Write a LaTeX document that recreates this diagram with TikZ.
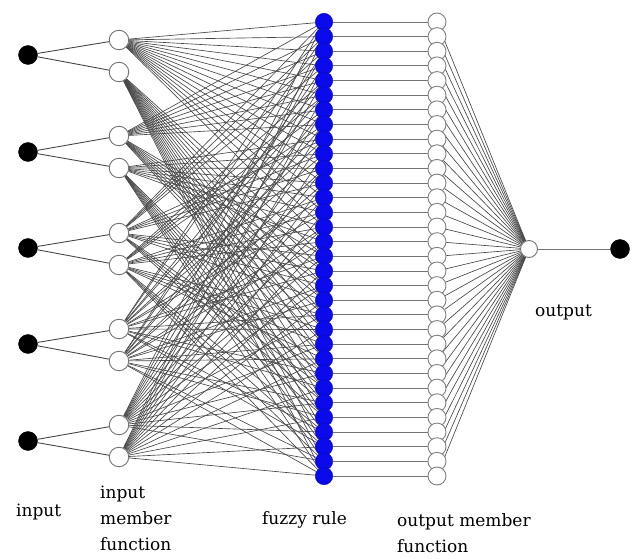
\documentclass[tikz,border=0pt]{standalone}
\usepackage{fontspec}
\setmainfont{DejaVu Serif}
\pgfdeclarelayer{wires}
\pgfsetlayers{wires,main}
\definecolor{rulefill}{RGB}{10,10,235}
\begin{document}
\begin{tikzpicture}[x=1pt,y=-1pt,
  innode/.style={circle,fill=black,draw=black,minimum size=19pt,inner sep=0pt},
  mfnode/.style={circle,fill=white,draw=black!55,line width=0.9pt,minimum size=19.5pt,inner sep=0pt},
  rulenode/.style={circle,fill=rulefill,draw=rulefill!80!black,line width=0.4pt,minimum size=17.5pt,inner sep=0pt},
  outmf/.style={circle,fill=white,draw=black!50,line width=0.9pt,minimum size=18pt,inner sep=0pt},
  wire/.style={draw=black!72,line width=0.65pt},
  lbl/.style={font=\fontsize{17}{26}\selectfont,align=left,inner sep=0pt,anchor=west}]
\useasboundingbox (0,0) rectangle (633,559);

% inputs and their two membership functions
\foreach \j/\y/\ya/\yb in {1/55/40/72,2/152/136/168,3/248/233/265,4/344/329/361,5/441/425/457}{
  \node[innode] (in\j) at (28,\y) {};
  \node[mfnode] (mf\j-0) at (119,\ya) {};
  \node[mfnode] (mf\j-1) at (119,\yb) {};
  \begin{pgfonlayer}{wires}
    \draw[wire,line width=0.9pt] (in\j) -- (mf\j-0);
    \draw[wire,line width=0.9pt] (in\j) -- (mf\j-1);
  \end{pgfonlayer}
}

% 32 rules and their output membership functions
\foreach \i in {0,...,31}{
  \pgfmathsetmacro\yy{22+\i*454/31}
  \node[rulenode] (r\i) at (324,\yy) {};
  \node[outmf] (o\i) at (437,\yy) {};
}

% output stage
\node[mfnode,minimum size=17pt] (out) at (529,249) {};
\node[innode] (res) at (620,249) {};

\begin{pgfonlayer}{wires}
  \foreach \i in {0,...,31}{
    \foreach \j in {1,...,5}{
      \pgfmathtruncatemacro\b{mod(floor(\i/2^(5-\j)),2)}
      \draw[wire] (mf\j-\b) -- (r\i);
    }
    \draw[wire,draw=black!55,line width=0.9pt] (r\i) -- (o\i);
    \draw[wire] (o\i) -- (out);
  }
  \draw[wire,draw=black!55,line width=0.9pt] (out) -- (res);
\end{pgfonlayer}

% labels
\node[lbl] (l1) at (16,512) {input};
\node[lbl,anchor=north west] (l2) at (100,486) {input\\member\\function};
\node[lbl] (l3) at (262,520) {fuzzy rule};
\node[lbl,anchor=north west] (l4) at (397,513) {output member\\function};
\node[lbl] (l5) at (535,312) {output};
\end{tikzpicture}
\end{document}
